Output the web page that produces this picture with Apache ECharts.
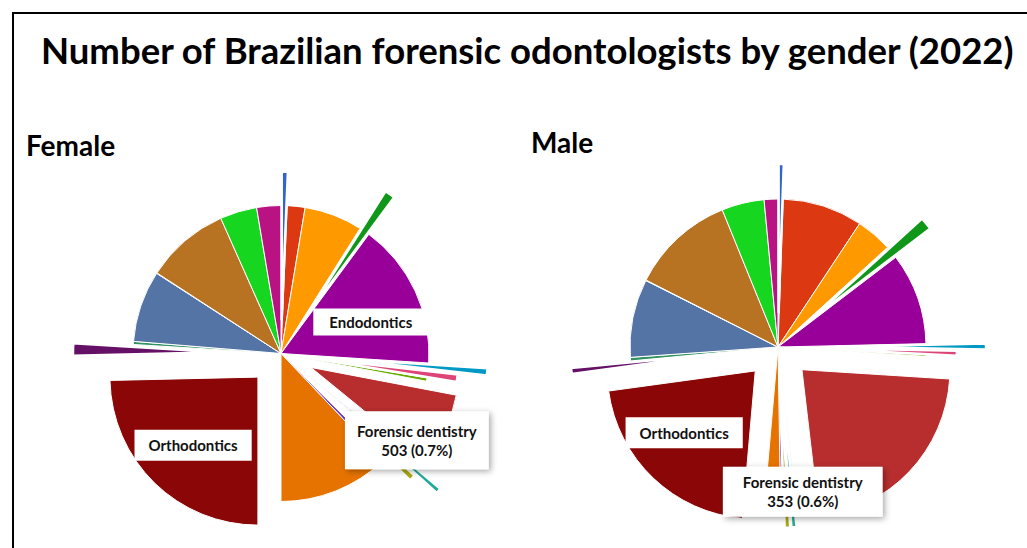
<!DOCTYPE html>
<html>
<head>
<meta charset="utf-8">
<script src="https://cdn.jsdelivr.net/npm/echarts/dist/echarts.min.js"></script>
<style>
html,body{margin:0;padding:0;background:#fff;}
#chart{width:1027px;height:548px;}
</style>
</head>
<body>
<div id="chart"></div>
<script>
// ---------------- data ----------------
const chartTitle = 'Number of Brazilian forensic odontologists by gender (2022)';
const panelNames = ['Female', 'Male'];
const categories = [
  'Acupuncture', 'Oral and maxillofacial surgery', 'Restorative dentistry',
  'TMD and orofacial pain', 'Endodontics', 'Stomatology', 'Orofacial harmonization',
  'Homeopathy', 'Implantology', 'Geriatric dentistry', 'Sports dentistry',
  'Occupational dentistry', 'Forensic dentistry', 'Special needs dentistry',
  'Pediatric dentistry', 'Orthodontics', 'Functional jaw orthopedics',
  'Oral pathology', 'Periodontics', 'Maxillofacial prosthesis', 'Prosthodontics',
  'Radiology', 'Public health'
];
const femaleValues = [479, 1397, 4571, 818, 11437, 559, 599, 259, 5669, 100, 60, 439, 503, 359, 8683, 17705, 958, 240, 5609, 40, 6587, 2894, 1896];
const maleValues   = [327, 5148, 2321, 817, 5883, 376, 327, 98, 13025, 49, 49, 327, 353, 163, 964, 12617, 392, 229, 5017, 33, 6701, 2729, 883];

// ---------------- style / layout ----------------
const palette = ['#3366cc','#dc3912','#ff9900','#109618','#990099','#0099c6','#dd4477','#66aa00',
  '#b82e2e','#316395','#994499','#22aa99','#aaaa11','#6633cc','#e67300','#8b0707','#651067',
  '#329262','#5574a6','#3b3eac','#b77322','#16d620','#b91383'];
const FONT = 'Lato, "Open Sans", sans-serif';
const PIE_R = 148;
const pies = [
  { values: femaleValues, center: [281, 353.5],
    explode: {0: 34, 3: 45, 5: 59, 6: 30, 8: 33, 11: 61, 12: 33, 15: 33, 16: 60},
    boxLabels: {4: [20, 1], 15: [-11, 13]}, tipShift: [56, 11], tipPad: [10, 12] },
  { values: maleValues, center: [778, 347],
    explode: {0: 35, 3: 45, 5: 60, 6: 31, 8: 33, 11: 33, 12: 33, 15: 33, 16: 60},
    boxLabels: {15: [-18, 6]}, tipShift: [19, 35], tipPad: [6, 20] }
];
const FORENSIC = categories.indexOf('Forensic dentistry');

function boxLabel(pad) {
  return { show: true, position: 'inside', backgroundColor: '#fff', color: '#111',
    fontFamily: FONT, fontWeight: 'bold', fontSize: 15, padding: pad };
}

function pieSeries(p, visible, offset, borderW, z) {
  return {
    type: 'pie', center: p.center, radius: [0, PIE_R], startAngle: 90, clockwise: true,
    silent: true, animation: false, avoidLabelOverlap: false, percentPrecision: 1,
    selectedMode: 'multiple', selectedOffset: offset || 0, z: z,
    labelLine: { show: false }, label: { show: false },
    emphasis: { disabled: true },
    itemStyle: { borderColor: '#fff', borderWidth: borderW },
    labelLayout: function (params) {
      const i = params.dataIndex;
      if (!visible(i)) return null;
      if (i === FORENSIC) return { dx: p.tipShift[0], dy: p.tipShift[1] };
      const s = p.boxLabels[i];
      return s ? { dx: s[0], dy: s[1] } : null;
    },
    data: categories.map(function (c, i) {
      const show = visible(i);
      const item = { name: c, value: p.values[i],
        itemStyle: { color: palette[i], opacity: show ? 1 : 0 } };
      if (show && offset) item.selected = true;
      if (show && p.boxLabels[i]) item.label = boxLabel(i === 15 ? [8, 14] : [6, 16]);
      if (show && i === FORENSIC) {
        item.label = Object.assign(boxLabel(p.tipPad), {
          formatter: '{b}\n{c} ({d}%)', lineHeight: 19, align: 'center',
          shadowBlur: 6, shadowColor: 'rgba(0,0,0,0.35)', shadowOffsetX: 2, shadowOffsetY: 2
        });
      }
      return item;
    })
  };
}

const series = [];
pies.forEach(function (p) {
  const ex = Object.keys(p.explode).map(Number);
  const total = p.values.reduce(function (a, b) { return a + b; }, 0);
  series.push(pieSeries(p, function (i) { return ex.indexOf(i) < 0; }, 0, 1, 2));
  ex.forEach(function (k) {
    const thin = p.values[k] / total < 0.02;
    series.push(pieSeries(p, function (i) { return i === k; }, p.explode[k], thin ? 2.5 : 1, k === FORENSIC ? 10 : 3));
  });
});

const chart = echarts.init(document.getElementById('chart'), null, { renderer: 'svg' });
chart.setOption({
  backgroundColor: '#fff',
  animation: false,
  title: [
    { text: chartTitle, left: 36, top: 26,
      textStyle: { fontFamily: FONT, fontWeight: 'bold', fontSize: 36.5, color: '#000' } },
    { text: panelNames[0], left: 21, top: 126,
      textStyle: { fontFamily: FONT, fontWeight: 'bold', fontSize: 28, color: '#000' } },
    { text: panelNames[1], left: 526, top: 123,
      textStyle: { fontFamily: FONT, fontWeight: 'bold', fontSize: 28, color: '#000' } }
  ],
  graphic: [{ type: 'rect', shape: { x: 13, y: 13, width: 1030, height: 560 },
    style: { fill: 'none', stroke: '#000', lineWidth: 2 }, silent: true, z: 100 }],
  series: series
});
</script>
</body>
</html>
